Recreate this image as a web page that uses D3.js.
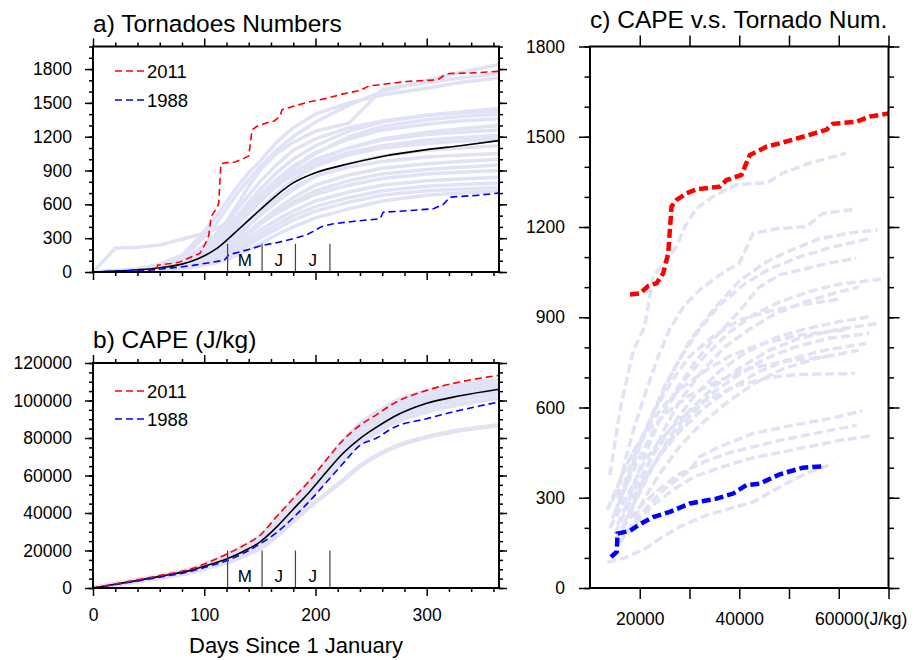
<!DOCTYPE html>
<html>
<head>
<meta charset="utf-8">
<script src="https://cdn.jsdelivr.net/npm/d3@7"></script>
<style>
body { margin: 0; background: #fff; }
text { font-family: "Liberation Sans", Arial, Helvetica, sans-serif; fill: #000; }
.ax text { font-size: 17.5px; }
.ax line { stroke: #000; stroke-width: 1.5; }
.ax path { display: none; }
</style>
</head>
<body>
<script>
var width = 922,
    height = 660;
var lavender = "#e2e2f7";

// ---------- a) cumulative tornado numbers ----------
var daysA = [0, 20, 40, 60, 80, 95, 110, 120, 130, 140, 150, 165, 180, 200, 230, 260, 300, 330, 365];
var meanA = [0, 8, 20, 38, 70, 120, 200, 280, 370, 460, 550, 680, 790, 880, 960, 1025, 1085, 1120, 1165];
var tornadoYears = [
    [0, 10, 25, 60, 130, 260, 420, 560, 700, 820, 930, 1080, 1200, 1330, 1480, 1600, 1700, 1770, 1840],
    [0, 8, 20, 50, 110, 200, 330, 450, 600, 760, 900, 1050, 1150, 1250, 1320, 1620, 1680, 1720, 1760],
    [0, 12, 30, 70, 150, 300, 480, 620, 760, 880, 980, 1150, 1280, 1400, 1500, 1570, 1630, 1680, 1720],
    [0, 6, 15, 40, 90, 170, 280, 380, 500, 620, 730, 880, 1000, 1120, 1250, 1330, 1390, 1420, 1450],
    [0, 10, 22, 45, 100, 190, 320, 440, 560, 680, 800, 950, 1080, 1180, 1280, 1340, 1390, 1410, 1430],
    [0, 5, 12, 30, 70, 140, 240, 330, 430, 540, 650, 800, 920, 1050, 1200, 1290, 1350, 1380, 1400],
    [0, 8, 18, 40, 85, 160, 260, 360, 470, 580, 680, 820, 940, 1060, 1180, 1260, 1310, 1340, 1360],
    [0, 210, 220, 240, 290, 330, 380, 430, 500, 580, 650, 760, 870, 990, 1100, 1180, 1240, 1270, 1300],
    [0, 5, 15, 35, 75, 140, 230, 320, 420, 520, 620, 760, 880, 1000, 1100, 1170, 1220, 1240, 1260],
    [0, 10, 25, 55, 110, 200, 310, 400, 490, 580, 660, 770, 860, 960, 1060, 1120, 1170, 1190, 1210],
    [0, 6, 14, 30, 60, 110, 190, 270, 360, 460, 560, 700, 820, 940, 1040, 1100, 1140, 1160, 1180],
    [0, 4, 10, 25, 55, 100, 170, 240, 320, 410, 500, 620, 730, 850, 960, 1030, 1080, 1100, 1120],
    [0, 8, 20, 45, 90, 150, 230, 300, 380, 460, 540, 650, 750, 850, 930, 980, 1020, 1035, 1050],
    [0, 5, 12, 28, 55, 95, 150, 210, 280, 360, 440, 560, 660, 770, 860, 920, 960, 980, 1000],
    [0, 3, 8, 20, 45, 80, 130, 190, 260, 340, 420, 530, 620, 720, 810, 870, 910, 930, 950],
    [0, 6, 14, 30, 60, 100, 160, 220, 290, 360, 430, 520, 600, 690, 770, 830, 870, 885, 900],
    [0, 4, 10, 22, 45, 75, 120, 170, 230, 300, 370, 460, 540, 630, 710, 770, 810, 825, 840],
    [0, 5, 12, 25, 50, 80, 120, 160, 210, 270, 330, 420, 500, 580, 660, 720, 760, 775, 790],
    [0, 3, 8, 18, 35, 60, 95, 130, 180, 240, 300, 380, 460, 540, 620, 680, 720, 735, 750],
    [0, 2, 6, 14, 28, 50, 80, 110, 150, 200, 250, 330, 400, 480, 560, 630, 680, 700, 720]
];
// [day, count]
var tornado2011 = [[0, 0], [30, 2], [57, 5], [58, 60], [70, 75], [78, 88], [85, 120], [90, 139], [96, 165],
    [101, 251], [104, 320], [106, 480], [108, 520], [111, 560], [113, 610], [115, 960], [120, 970], [128, 975],
    [136, 1010], [140, 1030], [143, 1260], [147, 1290], [155, 1320], [163, 1340], [168, 1380], [170, 1440],
    [180, 1470], [195, 1510], [210, 1540], [225, 1580], [240, 1610], [248, 1650], [265, 1670], [282, 1690],
    [310, 1705], [315, 1740], [320, 1760], [340, 1765], [365, 1780]];
var tornado1988 = [[0, 0], [20, 8], [50, 15], [60, 25], [75, 40], [90, 59], [108, 88], [118, 105], [122, 150],
    [126, 163], [140, 200], [152, 236], [165, 260], [180, 295], [192, 330], [198, 360], [205, 400], [216, 428],
    [235, 450], [258, 472], [261, 530], [285, 545], [306, 561], [315, 600], [321, 664], [345, 680], [365, 700]];

// ---------- b) cumulative CAPE ----------
var daysB = [0, 30, 60, 90, 105, 120, 135, 150, 165, 180, 195, 210, 225, 240, 255, 270, 300, 330, 365];
var capeMean = [0, 3000, 6200, 9800, 12500, 15500, 19500, 24500, 32500, 42000, 51500, 62000, 72000, 79700, 85800, 91200, 98500, 102500, 106000];
var cape2011 = [0, 3300, 6600, 10500, 14000, 18000, 22500, 28000, 38000, 47700, 57500, 68500, 79000, 86800, 92500, 98300, 105400, 109900, 113400];
var cape1988 = [0, 2800, 5800, 9200, 11800, 14500, 18500, 23500, 29500, 37500, 46500, 56500, 66500, 76100, 80000, 85500, 90300, 94800, 99200];
var capeYears = [
    [0, 3200, 6500, 10400, 13800, 17500, 22000, 27500, 37000, 47000, 57000, 67500, 78500, 87500, 93500, 99000, 105000, 108500, 111000],
    [0, 3100, 6300, 10100, 13200, 16800, 21000, 26500, 35500, 45500, 55500, 66000, 76500, 85000, 91000, 96500, 102500, 106500, 109500],
    [0, 3000, 6100, 9700, 12600, 15800, 19800, 25000, 33500, 43000, 53000, 63500, 73500, 81500, 87500, 93000, 99500, 103500, 107000],
    [0, 2900, 5900, 9400, 12100, 15000, 19000, 24000, 31500, 40500, 50000, 60000, 70000, 78500, 85000, 90000, 96500, 100500, 104000],
    [0, 2800, 5700, 9100, 11700, 14400, 18000, 22500, 29000, 38000, 47500, 58000, 68000, 77000, 83000, 88000, 94000, 98000, 101500],
    [0, 3100, 6200, 10000, 13000, 16300, 20500, 25800, 34500, 44500, 54500, 65000, 75500, 84500, 90000, 95000, 101500, 105500, 108500],
    [0, 3000, 6000, 9600, 12400, 15400, 19400, 24500, 32500, 42000, 52000, 62000, 72500, 80500, 86500, 91500, 97500, 101500, 105000],
    [0, 2700, 5500, 8600, 11000, 13500, 17000, 21000, 27500, 35500, 43500, 50500, 57500, 65000, 70500, 75000, 80500, 84100, 86800]
];

// ---------- c) CAPE vs tornado number, [cape, count] ----------
var capeTor2011 = [[18030, 976], [20030, 979], [21700, 1004], [23380, 1013], [24710, 1046], [25720, 1112],
    [26390, 1268], [27400, 1290], [29400, 1312], [31410, 1325], [36090, 1334], [37430, 1356], [40440, 1373],
    [42110, 1439], [45460, 1467], [48130, 1478], [52810, 1500], [57490, 1523], [58830, 1543], [63520, 1550],
    [66190, 1567], [69540, 1576], [72000, 1585]];
var capeTor1988 = [[14210, 103], [15360, 120], [15560, 181], [18030, 190], [20030, 212], [22710, 236],
    [26060, 253], [30070, 281], [35420, 297], [38760, 314], [41440, 342], [44120, 347], [48130, 378],
    [52810, 400], [57160, 405]];
var capeTorYears = [
    [[14000, 375], [16000, 590], [18700, 790], [21000, 868], [22700, 1035], [24000, 1063], [27400, 1135], [29000, 1200], [31400, 1262], [34700, 1301], [39400, 1340], [45500, 1347], [48800, 1379], [54000, 1412], [61500, 1445]],
    [[15500, 300], [17000, 420], [19000, 540], [21000, 640], [23500, 760], [26000, 860], [29000, 940], [32000, 990], [36000, 1040], [40000, 1080], [42800, 1179], [48000, 1195], [53500, 1201], [56800, 1245], [63200, 1259]],
    [[16000, 280], [18000, 380], [20000, 470], [23000, 590], [26000, 700], [30000, 820], [35000, 930], [40000, 1020], [45000, 1080], [50000, 1120], [56000, 1160], [62000, 1180], [67800, 1190]],
    [[15000, 250], [17000, 340], [19500, 450], [22000, 560], [25000, 670], [28000, 760], [32000, 860], [36000, 940], [41000, 1010], [46000, 1060], [52000, 1100], [58000, 1130], [65800, 1160]],
    [[17000, 260], [19000, 350], [21000, 440], [24000, 560], [27000, 650], [31000, 750], [35000, 830], [40000, 920], [44000, 1000], [48000, 1040], [53000, 1060], [58000, 1080], [63500, 1096]],
    [[14500, 230], [16500, 310], [19000, 400], [22000, 500], [25500, 600], [29000, 690], [33000, 770], [38000, 850], [43000, 910], [48000, 950], [54000, 985], [60000, 1010], [68500, 1026]],
    [[18000, 240], [20000, 330], [22000, 420], [25000, 530], [28000, 620], [32000, 710], [37000, 800], [42000, 860], [47000, 910], [53000, 950], [58000, 975], [64000, 1000]],
    [[15500, 210], [17500, 280], [20000, 360], [23000, 450], [27000, 550], [31000, 640], [36000, 720], [41000, 780], [47000, 830], [53000, 860], [60000, 885], [66900, 904]],
    [[16500, 200], [19000, 290], [22000, 390], [26000, 500], [30000, 590], [35000, 670], [40000, 730], [46000, 790], [52000, 830], [60000, 860], [68000, 880]],
    [[17000, 220], [19500, 300], [22500, 400], [26000, 490], [30000, 570], [34000, 640], [39000, 700], [45000, 760], [51000, 800], [58000, 830], [66200, 846]],
    [[15000, 180], [17000, 250], [20000, 340], [24000, 440], [28000, 520], [33000, 600], [38000, 660], [44000, 720], [50000, 760], [57000, 790], [65500, 813]],
    [[19000, 230], [21000, 300], [24000, 380], [28000, 470], [32000, 540], [37000, 610], [43000, 680], [49000, 730], [56000, 765], [64000, 790]],
    [[14000, 200], [16000, 260], [18500, 340], [21000, 420], [24000, 490], [28000, 560], [33000, 620], [39000, 670], [46000, 700], [52000, 710], [63200, 713]],
    [[16000, 150], [18000, 200], [21000, 260], [25000, 330], [30000, 390], [32000, 436], [36000, 469], [42800, 514], [50800, 541], [58800, 565], [64700, 589]],
    [[15000, 160], [17000, 210], [20000, 270], [24000, 330], [28000, 380], [33000, 420], [38000, 450], [43000, 470], [48000, 490], [54000, 510], [63600, 541]],
    [[17500, 180], [20000, 230], [23000, 280], [27000, 330], [31000, 370], [36000, 400], [42000, 430], [48000, 450], [54000, 470], [60000, 490], [66200, 505]],
    [[13500, 85], [17000, 100], [21000, 130], [24000, 164], [28000, 203], [33400, 242], [42800, 286], [48100, 336], [53500, 381], [58800, 414]],
    [[16000, 300], [18000, 400], [20500, 500], [23000, 590], [26500, 690], [30000, 770], [35000, 840], [40000, 890], [46000, 920], [52000, 940], [60000, 960]],
    [[13500, 260], [15500, 340], [18000, 430], [21000, 520], [24500, 600], [28000, 660], [33000, 720], [38000, 770], [44000, 810], [52000, 840], [62000, 860]],
    [[14500, 290], [16500, 380], [19000, 460], [22000, 530], [26000, 590], [30000, 640], [36000, 690], [42000, 730], [50000, 755], [58000, 770]]
];

// month marks (May, Jun, Jul)
var monthStarts = [121, 152, 182, 213];
var monthNames = ["M", "J", "J"];

var svg = d3.select("body").append("svg")
    .attr("width", width)
    .attr("height", height);

function zip(xs, ys) {
    return xs.map(function (d, i) { return [d, ys[i]]; });
}

function axisPair(g, make, scale, transform, major, minor, big, small, fmt, pad) {
    g.append("g").attr("class", "ax").attr("transform", transform)
        .call(make(scale).tickValues(minor).tickSize(small).tickSizeOuter(0).tickFormat(""));
    return g.append("g").attr("class", "ax").attr("transform", transform)
        .call(make(scale).tickValues(major).tickSize(big).tickSizeOuter(0)
            .tickPadding(pad || 0).tickFormat(fmt || ""));
}

function frame(g, x, y, o) {
    var xr = x.range(), yr = y.range();
    var bottom = axisPair(g, d3.axisBottom, x, "translate(0," + yr[0] + ")", o.xMaj, o.xMin, o.tx, o.tx2, o.xFmt, o.xPad);
    axisPair(g, d3.axisTop, x, "translate(0," + yr[1] + ")", o.xMaj, o.xMin, o.tx, o.tx2);
    axisPair(g, d3.axisLeft, y, "translate(" + xr[0] + ",0)", o.yMaj, o.yMin, o.ty, o.ty2, d3.format("d"), o.yPad);
    axisPair(g, d3.axisRight, y, "translate(" + xr[1] + ",0)", o.yMaj, o.yMin, o.ty, o.ty2);
    g.append("rect")
        .attr("x", xr[0]).attr("y", yr[1])
        .attr("width", xr[1] - xr[0]).attr("height", yr[0] - yr[1])
        .attr("fill", "none").attr("stroke", "#000").attr("stroke-width", 2);
    return bottom;
}

function clipFor(id, x, y) {
    svg.append("clipPath").attr("id", id).append("rect")
        .attr("x", x.range()[0]).attr("y", y.range()[1])
        .attr("width", x.range()[1] - x.range()[0])
        .attr("height", y.range()[0] - y.range()[1]);
}

function months(g, x, y, top) {
    g.selectAll("line.mon").data(monthStarts).enter().append("line")
        .attr("class", "mon")
        .attr("x1", function (d) { return x(d); }).attr("x2", function (d) { return x(d); })
        .attr("y1", y(0)).attr("y2", y(top))
        .attr("stroke", "#444").attr("stroke-width", 1.2);
    g.selectAll("text.mon").data(monthNames).enter().append("text")
        .attr("class", "mon")
        .attr("x", function (d, i) { return (x(monthStarts[i]) + x(monthStarts[i + 1])) / 2; })
        .attr("y", y(0) - 6)
        .attr("text-anchor", "middle")
        .style("font-size", "17px")
        .text(function (d) { return d; });
}

function legend(g, x0, yRed, yBlue) {
    [[yRed, "#ff0000", "2011"], [yBlue, "#0000ff", "1988"]].forEach(function (d) {
        g.append("line").attr("x1", x0).attr("x2", x0 + 29).attr("y1", d[0]).attr("y2", d[0])
            .attr("stroke", d[1]).attr("stroke-width", 1.6).attr("stroke-dasharray", "7,4");
        g.append("text").attr("x", x0 + 32).attr("y", d[0]).attr("dy", "0.36em")
            .style("font-size", "18.5px").text(d[2]);
    });
}

var dayTicks = [0, 100, 200, 300];
var dayMinor = d3.range(20, 365, 20).filter(function (d) { return d % 100 !== 0; });

// ---------- panel a ----------
var xa = d3.scaleLinear().domain([0, 365]).range([93, 499]);
var ya = d3.scaleLinear().domain([0, 2000]).range([272, 46.5]);
var ga = svg.append("g");
clipFor("clipA", xa, ya);
var lineA = d3.line().x(function (d) { return xa(d[0]); }).y(function (d) { return ya(d[1]); });
var smoothA = d3.line().curve(d3.curveMonotoneX).x(function (d) { return xa(d[0]); }).y(function (d) { return ya(d[1]); });
var pa = ga.append("g").attr("clip-path", "url(#clipA)");
pa.selectAll("path.yr").data(tornadoYears).enter().append("path")
    .attr("d", function (d) { return lineA(zip(daysA, d)); })
    .attr("fill", "none").attr("stroke", lavender).attr("stroke-width", 3.5);
pa.append("path").attr("d", smoothA(zip(daysA, meanA)))
    .attr("fill", "none").attr("stroke", "#000").attr("stroke-width", 1.6);
pa.append("path").attr("d", lineA(tornado1988))
    .attr("fill", "none").attr("stroke", "#0000ff").attr("stroke-width", 1.6).attr("stroke-dasharray", "7,4");
pa.append("path").attr("d", lineA(tornado2011))
    .attr("fill", "none").attr("stroke", "#ff0000").attr("stroke-width", 1.6).attr("stroke-dasharray", "7,4");
months(ga, xa, ya, 250);
frame(ga, xa, ya, {
    xMaj: dayTicks, xMin: dayMinor, tx: 8, tx2: 4, xFmt: "",
    yMaj: d3.range(0, 1801, 300), yMin: d3.range(0, 2001, 100), ty: 8, ty2: 4, yPad: 13
});
legend(ga, 115, 71, 100);
ga.append("text").attr("x", 93).attr("y", 32).style("font-size", "24.5px").text("a) Tornadoes Numbers");

// ---------- panel b ----------
var xb = d3.scaleLinear().domain([0, 365]).range([93, 499]);
var yb = d3.scaleLinear().domain([0, 120000]).range([588, 363]);
var gb = svg.append("g");
clipFor("clipB", xb, yb);
var lineB = d3.line().curve(d3.curveMonotoneX).x(function (d) { return xb(d[0]); }).y(function (d) { return yb(d[1]); });
var pb = gb.append("g").attr("clip-path", "url(#clipB)");
pb.selectAll("path.yr").data(capeYears).enter().append("path")
    .attr("d", function (d) { return lineB(zip(daysB, d)); })
    .attr("fill", "none").attr("stroke", lavender).attr("stroke-width", 4.5);
pb.append("path").attr("d", lineB(zip(daysB, capeMean)))
    .attr("fill", "none").attr("stroke", "#000").attr("stroke-width", 1.6);
pb.append("path").attr("d", lineB(zip(daysB, cape1988)))
    .attr("fill", "none").attr("stroke", "#0000ff").attr("stroke-width", 1.6).attr("stroke-dasharray", "7,4");
pb.append("path").attr("d", lineB(zip(daysB, cape2011)))
    .attr("fill", "none").attr("stroke", "#ff0000").attr("stroke-width", 1.6).attr("stroke-dasharray", "7,4");
months(gb, xb, yb, 20000);
frame(gb, xb, yb, {
    xMaj: dayTicks, xMin: dayMinor, tx: 8, tx2: 4, xFmt: d3.format("d"), xPad: 13,
    yMaj: d3.range(0, 120001, 20000), yMin: d3.range(0, 120001, 5000), ty: 8, ty2: 4, yPad: 13
});
legend(gb, 115, 391, 419);
gb.append("text").attr("x", 93).attr("y", 348).style("font-size", "24.5px").text("b) CAPE (J/kg)");
gb.append("text").attr("x", 296).attr("y", 653).attr("text-anchor", "middle")
    .style("font-size", "22px").text("Days Since 1 January");

// ---------- panel c ----------
var xc = d3.scaleLinear().domain([10000, 70000]).range([590, 888.5]);
var yc = d3.scaleLinear().domain([0, 1800]).range([588, 46.5]);
var gc = svg.append("g");
clipFor("clipC", xc, yc);
var lineC = d3.line().x(function (d) { return xc(d[0]); }).y(function (d) { return yc(d[1]); });
var pc = gc.append("g").attr("clip-path", "url(#clipC)");
pc.selectAll("path.yr").data(capeTorYears).enter().append("path")
    .attr("d", lineC)
    .attr("fill", "none").attr("stroke", lavender).attr("stroke-width", 3.5).attr("stroke-dasharray", "9,4");
pc.append("path").attr("d", lineC(capeTor1988))
    .attr("fill", "none").attr("stroke", "#0000ff").attr("stroke-width", 4.5).attr("stroke-dasharray", "9,4");
pc.append("path").attr("d", lineC(capeTor2011))
    .attr("fill", "none").attr("stroke", "#ff0000").attr("stroke-width", 4.5).attr("stroke-dasharray", "9,4");
var labelledCape = [20000, 40000, 60000];
var bottomC = frame(gc, xc, yc, {
    xMaj: d3.range(20000, 70001, 10000), xMin: [], tx: 11, tx2: 0,
    xFmt: function (d) { return labelledCape.indexOf(d) >= 0 ? d3.format("d")(d) : ""; }, xPad: 14,
    yMaj: d3.range(0, 1801, 300), yMin: d3.range(0, 1801, 100), ty: 11, ty2: 5.5, yPad: 14
});
// unit appended after the last labelled tick
bottomC.selectAll(".tick text").filter(function (d) { return d === 60000; })
    .each(function () {
        var w = this.getComputedTextLength();
        d3.select(this).attr("text-anchor", "start").attr("x", -w / 2).text("60000(J/kg)");
    });
gc.append("text").attr("x", 590).attr("y", 28).style("font-size", "24.5px").text("c) CAPE v.s. Tornado Num.");
</script>
</body>
</html>
